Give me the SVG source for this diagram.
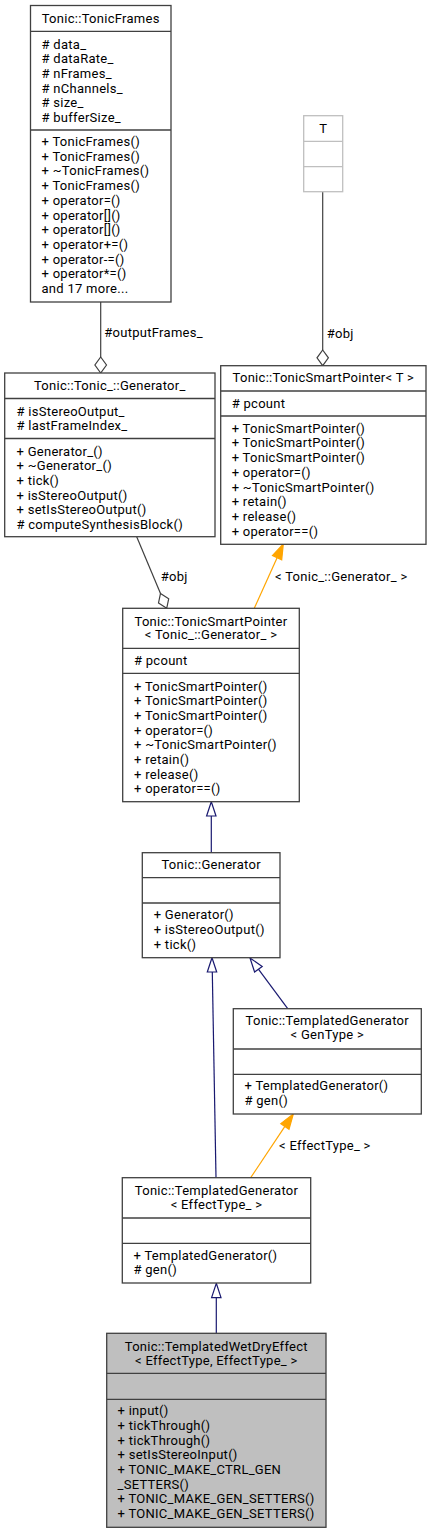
<svg xmlns="http://www.w3.org/2000/svg" width="431" height="1533" viewBox="0 0 431 1533">
<style>
text{font-family:Roboto,"Liberation Sans",Arial,sans-serif;font-size:13px;letter-spacing:0.28px;fill:#000}
.c{text-anchor:middle}
.box{fill:#fff;stroke:#404040;stroke-width:1.3}
.main{fill:#bfbfbf;stroke:#404040;stroke-width:1.3}
.grey{fill:#fff;stroke:#bfbfbf;stroke-width:1.3}
.sep{stroke:#404040;stroke-width:1.3}
.gsep{stroke:#bfbfbf;stroke-width:1.3}
.agg{fill:none;stroke:#404040;stroke-width:1.2}
.aggh{fill:#fff;stroke:#404040;stroke-width:1.2}
.inh{fill:none;stroke:#191970;stroke-width:1.2}
.inhh{fill:#fff;stroke:#191970;stroke-width:1.2}
.tpl{fill:none;stroke:#ffa500;stroke-width:1.2}
.tplh{fill:#ffa500;stroke:#ffa500;stroke-width:1.2}
</style>
<rect width="431" height="1533" fill="#fff"/>

<g id="connectors">
  <line class="agg" x1="100.7" y1="302" x2="100.7" y2="357"/>
  <polygon class="aggh" points="100.7,357 106.5,365 100.7,373 94.9,365"/>
  <text x="104.3" y="337">#outputFrames_</text>

  <line class="agg" x1="322.7" y1="191.7" x2="322.7" y2="350"/>
  <polygon class="aggh" points="322.7,350 328.4,357.8 322.7,365.7 317,357.8"/>
  <text x="326.7" y="337.6">#obj</text>

  <line class="agg" x1="136.7" y1="536.7" x2="160.5" y2="593.5"/>
  <polygon class="aggh" points="160.5,593.5 168.7,598.8 166.7,608.3 158.5,603"/>
  <text x="160.7" y="580.6">#obj</text>

  <line class="tpl" x1="254.3" y1="608.3" x2="277.1" y2="557.7"/>
  <polygon class="tplh" points="283.3,544 272.5,555.6 281.7,559.8"/>
  <text x="275" y="580.6">&lt; Tonic_::Generator_ &gt;</text>

  <line class="inh" x1="211.3" y1="816" x2="211.3" y2="852.7"/>
  <polygon class="inhh" points="211.3,801.7 216,816 206.6,816"/>

  <line class="inh" x1="212.3" y1="972" x2="216" y2="1177.7"/>
  <polygon class="inhh" points="212,957.7 216.7,972 207.3,972"/>

  <line class="inh" x1="258.4" y1="969.2" x2="287.7" y2="1008.7"/>
  <polygon class="inhh" points="250,958 262.2,966.4 254.6,972"/>

  <line class="tpl" x1="250.7" y1="1177.7" x2="284.9" y2="1126.4"/>
  <polygon class="tplh" points="293.3,1114 280.8,1123.6 289,1129.2"/>
  <text x="279" y="1149.6">&lt; EffectType_ &gt;</text>

  <line class="inh" x1="216.3" y1="1297.6" x2="216.3" y2="1333.3"/>
  <polygon class="inhh" points="216.3,1283.3 221,1297.6 211.6,1297.6"/>
</g>

<g id="node-TonicFrames">
  <rect class="box" x="30.5" y="5.5" width="140.5" height="296.5"/>
  <line class="sep" x1="30.5" y1="31.3" x2="171" y2="31.3"/>
  <line class="sep" x1="30.5" y1="130" x2="171" y2="130"/>
  <text class="c" x="100.7" y="22.7">Tonic::TonicFrames</text>
  <text x="41.5" y="48.5"># data_</text>
  <text x="41.5" y="63.2"># dataRate_</text>
  <text x="41.5" y="77.9"># nFrames_</text>
  <text x="41.5" y="92.6"># nChannels_</text>
  <text x="41.5" y="107.3"># size_</text>
  <text x="41.5" y="122"># bufferSize_</text>
  <text x="41.5" y="146">+ TonicFrames()</text>
  <text x="41.5" y="160.7">+ TonicFrames()</text>
  <text x="41.5" y="175.4">+ ~TonicFrames()</text>
  <text x="41.5" y="190.1">+ TonicFrames()</text>
  <text x="41.5" y="204.8">+ operator=()</text>
  <text x="41.5" y="219.5">+ operator[]()</text>
  <text x="41.5" y="234.2">+ operator[]()</text>
  <text x="41.5" y="248.9">+ operator+=()</text>
  <text x="41.5" y="263.6">+ operator-=()</text>
  <text x="41.5" y="278.3">+ operator*=()</text>
  <text x="41.5" y="293">and 17 more...</text>
</g>

<g id="node-T">
  <rect class="grey" x="303.7" y="115.7" width="39" height="76"/>
  <line class="gsep" x1="303.7" y1="141.3" x2="342.7" y2="141.3"/>
  <line class="gsep" x1="303.7" y1="166.7" x2="342.7" y2="166.7"/>
  <text class="c" x="323.2" y="132.5">T</text>
</g>

<g id="node-TonicSmartPointerT">
  <rect class="box" x="220.7" y="365.7" width="205.3" height="178.6"/>
  <line class="sep" x1="220.7" y1="391" x2="426" y2="391"/>
  <line class="sep" x1="220.7" y1="416" x2="426" y2="416"/>
  <text class="c" x="323.3" y="382.3">Tonic::TonicSmartPointer&lt; T &gt;</text>
  <text x="231.7" y="407.5"># pcount</text>
  <text x="231.7" y="432.7">+ TonicSmartPointer()</text>
  <text x="231.7" y="447.4">+ TonicSmartPointer()</text>
  <text x="231.7" y="462.1">+ TonicSmartPointer()</text>
  <text x="231.7" y="476.8">+ operator=()</text>
  <text x="231.7" y="491.5">+ ~TonicSmartPointer()</text>
  <text x="231.7" y="506.2">+ retain()</text>
  <text x="231.7" y="520.9">+ release()</text>
  <text x="231.7" y="535.6">+ operator==()</text>
</g>

<g id="node-Generator_">
  <rect class="box" x="4.7" y="373" width="210.3" height="163.7"/>
  <line class="sep" x1="4.7" y1="398.5" x2="215" y2="398.5"/>
  <line class="sep" x1="4.7" y1="438.5" x2="215" y2="438.5"/>
  <text class="c" x="109.8" y="389.7">Tonic::Tonic_::Generator_</text>
  <text x="16.5" y="415.5"># isStereoOutput_</text>
  <text x="16.5" y="430.2"># lastFrameIndex_</text>
  <text x="16.5" y="455.5">+ Generator_()</text>
  <text x="16.5" y="470.2">+ ~Generator_()</text>
  <text x="16.5" y="484.9">+ tick()</text>
  <text x="16.5" y="499.6">+ isStereoOutput()</text>
  <text x="16.5" y="514.3">+ setIsStereoOutput()</text>
  <text x="16.5" y="529"># computeSynthesisBlock()</text>
</g>

<g id="node-TonicSmartPointerGenerator_">
  <rect class="box" x="122.7" y="608.3" width="176.6" height="193.4"/>
  <line class="sep" x1="122.7" y1="648.3" x2="299.3" y2="648.3"/>
  <line class="sep" x1="122.7" y1="673.3" x2="299.3" y2="673.3"/>
  <text class="c" x="211" y="625.6">Tonic::TonicSmartPointer</text>
  <text class="c" x="211" y="639">&lt; Tonic_::Generator_ &gt;</text>
  <text x="134" y="665.2"># pcount</text>
  <text x="134" y="690.5">+ TonicSmartPointer()</text>
  <text x="134" y="705.2">+ TonicSmartPointer()</text>
  <text x="134" y="719.9">+ TonicSmartPointer()</text>
  <text x="134" y="734.6">+ operator=()</text>
  <text x="134" y="749.3">+ ~TonicSmartPointer()</text>
  <text x="134" y="764">+ retain()</text>
  <text x="134" y="778.7">+ release()</text>
  <text x="134" y="793.4">+ operator==()</text>
</g>

<g id="node-Generator">
  <rect class="box" x="142.3" y="852.7" width="137.7" height="105"/>
  <line class="sep" x1="142.3" y1="877.7" x2="280" y2="877.7"/>
  <line class="sep" x1="142.3" y1="903" x2="280" y2="903"/>
  <text class="c" x="211.2" y="869">Tonic::Generator</text>
  <text x="153.7" y="919">+ Generator()</text>
  <text x="153.7" y="933.9">+ isStereoOutput()</text>
  <text x="153.7" y="948.8">+ tick()</text>
</g>

<g id="node-TemplatedGeneratorGenType">
  <rect class="box" x="233.3" y="1008.7" width="188" height="105.3"/>
  <line class="sep" x1="233.3" y1="1049" x2="421.3" y2="1049"/>
  <line class="sep" x1="233.3" y1="1074.3" x2="421.3" y2="1074.3"/>
  <text class="c" x="327.3" y="1024.9">Tonic::TemplatedGenerator</text>
  <text class="c" x="327.3" y="1038.9">&lt; GenType &gt;</text>
  <text x="244.5" y="1090.3">+ TemplatedGenerator()</text>
  <text x="244.5" y="1104.6"># gen()</text>
</g>

<g id="node-TemplatedGeneratorEffectType_">
  <rect class="box" x="122.3" y="1177.7" width="188.4" height="105.3"/>
  <line class="sep" x1="122.3" y1="1218" x2="310.7" y2="1218"/>
  <line class="sep" x1="122.3" y1="1243.3" x2="310.7" y2="1243.3"/>
  <text class="c" x="216.5" y="1194.6">Tonic::TemplatedGenerator</text>
  <text class="c" x="216.5" y="1208.9">&lt; EffectType_ &gt;</text>
  <text x="133.5" y="1259.6">+ TemplatedGenerator()</text>
  <text x="133.5" y="1273.9"># gen()</text>
</g>

<g id="node-TemplatedWetDryEffect">
  <rect class="main" x="106.7" y="1333.3" width="219.3" height="194"/>
  <line class="sep" x1="106.7" y1="1373.3" x2="326" y2="1373.3"/>
  <line class="sep" x1="106.7" y1="1399.3" x2="326" y2="1399.3"/>
  <text class="c" x="216.3" y="1350.6">Tonic::TemplatedWetDryEffect</text>
  <text class="c" x="216.3" y="1364.6">&lt; EffectType, EffectType_ &gt;</text>
  <text x="117.5" y="1415.3">+ input()</text>
  <text x="117.5" y="1430">+ tickThrough()</text>
  <text x="117.5" y="1444.6">+ tickThrough()</text>
  <text x="117.5" y="1459.3">+ setIsStereoInput()</text>
  <text x="117.5" y="1474">+ TONIC_MAKE_CTRL_GEN</text>
  <text x="117.5" y="1488.6">_SETTERS()</text>
  <text x="117.5" y="1503.3">+ TONIC_MAKE_GEN_SETTERS()</text>
  <text x="117.5" y="1518">+ TONIC_MAKE_GEN_SETTERS()</text>
</g>
</svg>
